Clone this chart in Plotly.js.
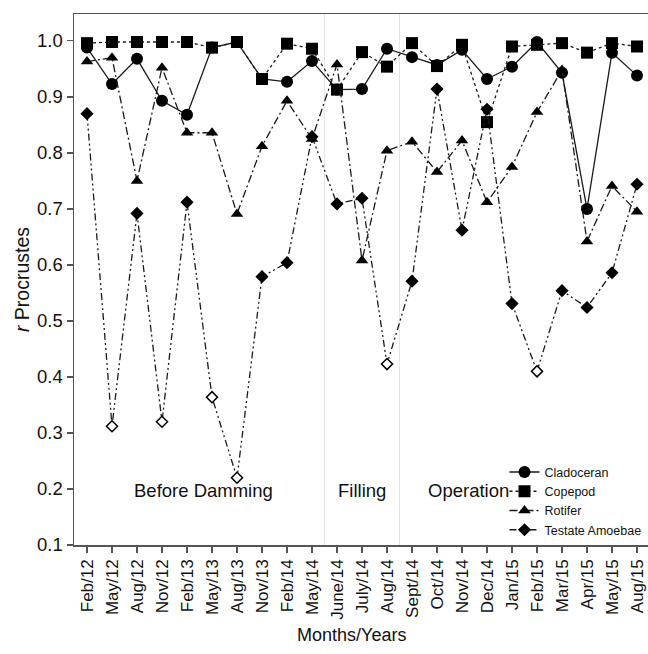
<!DOCTYPE html>
<html><head><meta charset="utf-8">
<script src="https://cdn.plot.ly/plotly-3.0.1.min.js"></script>
<style>html,body{margin:0;padding:0;background:#fff}</style>
</head><body><div id="chart" style="width:648px;height:654px"></div>
<script>
const months = ["Feb/12","May/12","Aug/12","Nov/12","Feb/13","May/13","Aug/13","Nov/13","Feb/14","May/14","June/14","July/14","Aug/14","Sept/14","Oct/14","Nov/14","Dec/14","Jan/15","Feb/15","Mar/15","Apr/15","May/15","Aug/15"];
const cladoceran = [0.988,0.923,0.968,0.893,0.868,0.988,0.998,0.932,0.927,0.964,0.913,0.914,0.986,0.971,0.957,0.984,0.932,0.954,0.998,0.943,0.700,0.979,0.938];
const copepod = [0.996,0.998,0.998,0.998,0.998,0.988,0.998,0.932,0.995,0.986,0.913,0.980,0.954,0.996,0.955,0.993,0.855,0.990,0.993,0.996,0.979,0.996,0.990];
const rotifer = [0.963,0.970,0.750,0.952,0.836,0.836,0.691,0.812,0.893,0.825,0.958,0.608,0.804,0.820,0.766,0.822,0.712,0.775,0.873,0.948,0.642,0.741,0.695];
const testate = [0.870,0.312,0.692,0.320,0.712,0.364,0.220,0.579,0.604,0.829,0.709,0.719,0.423,0.571,0.914,0.662,0.878,0.531,0.410,0.554,0.524,0.586,0.744];
const testateOpen = [false,true,false,true,false,true,true,false,false,false,false,false,true,false,false,false,false,false,true,false,false,false,false];
const phases = ["Before Damming","Filling","Operation"];
const xTitle = "Months/Years";

const FONT = "Liberation Sans, Arial, sans-serif";
const LC = "#1a1a1a";
const traces = [
  {x: months, y: cladoceran, name: "Cladoceran", mode: "lines+markers",
   line: {color: LC, width: 1.3}, marker: {symbol: "circle", size: 12, color: "#000"}},
  {x: months, y: copepod, name: "Copepod", mode: "lines+markers",
   line: {color: LC, width: 1.3, dash: "dot"}, marker: {symbol: "square", size: 12, color: "#000"}},
  {x: months, y: rotifer, name: "Rotifer", mode: "lines+markers",
   line: {color: LC, width: 1.3, dash: "8px,3px,2px,3px"}, marker: {symbol: "triangle-up", size: 11, color: "#000"}},
  {x: months, y: testate, name: "Testate Amoebae", mode: "lines+markers",
   line: {color: LC, width: 1.3, dash: "7px,3px,2px,3px,2px,3px"},
   marker: {symbol: "diamond", size: 8.5, color: testateOpen.map(o => o ? "#fff" : "#000"),
            line: {color: "#000", width: 1.5}}}
];

const layout = {
  width: 648, height: 654,
  margin: {l: 74, r: 0, t: 14, b: 109},
  paper_bgcolor: "#fff", plot_bgcolor: "#fff",
  font: {family: FONT, color: "#111"},
  showlegend: true,
  legend: {x: 0.75, y: 0.165, xanchor: "left", yanchor: "top", bgcolor: "rgba(0,0,0,0)",
           font: {family: FONT, size: 12.5, color: "#111"}, itemwidth: 30, tracegroupgap: 0},
  xaxis: {type: "category", range: [-0.52, 22.44], showgrid: false, zeroline: false,
          showline: true, linecolor: "#555", linewidth: 1.5, mirror: true,
          ticks: "outside", ticklen: 6, tickcolor: "#555", tickwidth: 1.2,
          tickangle: -90, tickfont: {family: FONT, size: 17, color: "#111"}},
  yaxis: {range: [0.1, 1.048], tick0: 0.1, dtick: 0.1, tickformat: ".1f",
          showgrid: false, zeroline: false, showline: true, linecolor: "#555", linewidth: 1.5,
          ticks: "outside", ticklen: 6, tickcolor: "#555", tickwidth: 1.2,
          tickfont: {family: FONT, size: 18.5, color: "#111"},
          title: {text: "<i>r</i> Procrustes", font: {family: FONT, size: 19.5, color: "#111"}, standoff: 2}},
  shapes: [
    {type: "line", xref: "x", yref: "paper", x0: 9.5, x1: 9.5, y0: 0, y1: 1, line: {color: "#e4e4e4", width: 1}, layer: "below"},
    {type: "line", xref: "x", yref: "paper", x0: 12.5, x1: 12.5, y0: 0, y1: 1, line: {color: "#e4e4e4", width: 1}, layer: "below"}
  ],
  annotations: [
    {text: phases[0], x: 4.64, y: 0.198, xref: "x", yref: "y", showarrow: false, font: {family: FONT, size: 18.5, color: "#111"}},
    {text: phases[1], x: 11.0, y: 0.198, xref: "x", yref: "y", showarrow: false, font: {family: FONT, size: 18.5, color: "#111"}},
    {text: phases[2], x: 15.24, y: 0.198, xref: "x", yref: "y", showarrow: false, font: {family: FONT, size: 18.5, color: "#111"}},
    {text: xTitle, x: 0.483, y: -0.17, xref: "paper", yref: "paper", xanchor: "center", yanchor: "middle",
     showarrow: false, font: {family: FONT, size: 18, color: "#111"}}
  ]
};
Plotly.newPlot("chart", traces, layout, {displayModeBar: false, staticPlot: true});
</script></body></html>
